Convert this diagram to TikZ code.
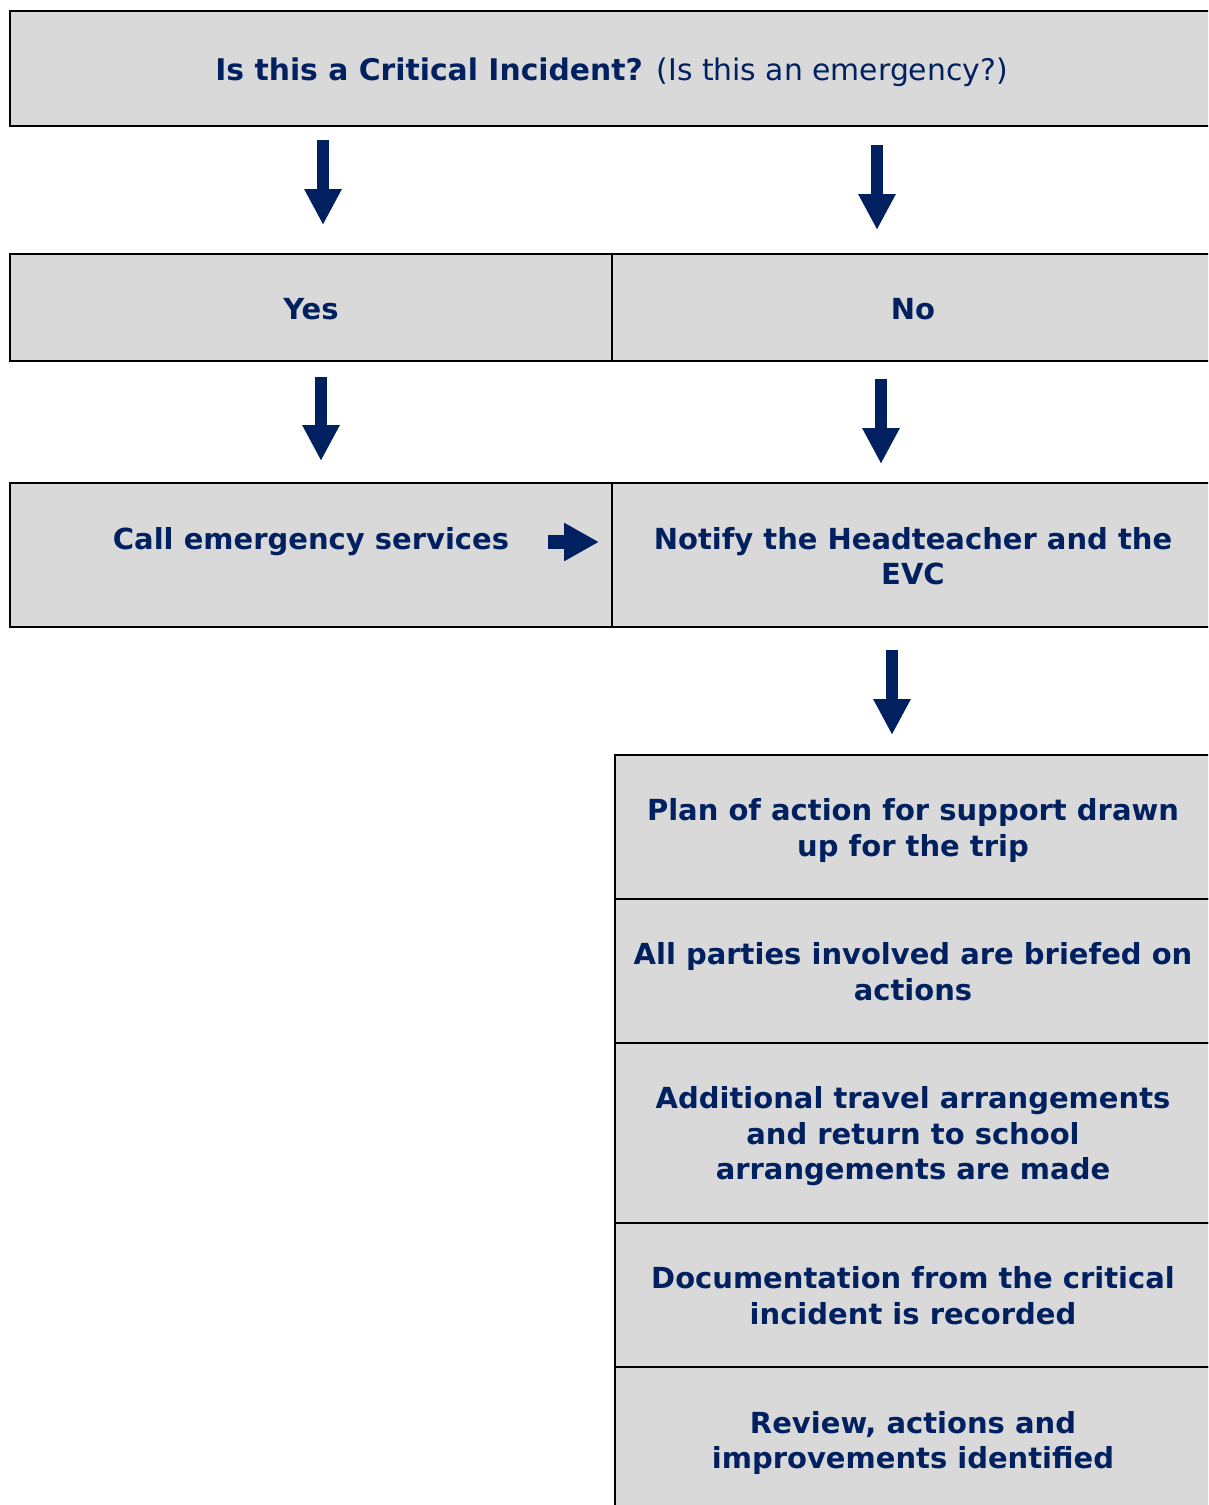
\documentclass[tikz,border=0pt]{standalone}
\usepackage{fontspec}
\setmainfont{DejaVu Sans}
\usetikzlibrary{arrows.meta}
\definecolor{navy}{HTML}{002060}
\definecolor{boxgray}{HTML}{D9D9D9}
\tikzset{
  box/.style={draw=black, line width=2pt, fill=boxgray, rectangle, inner sep=0pt},
  txt/.style={text=navy, font=\fontsize{29}{35.5}\selectfont\bfseries, align=center,
    inner sep=0pt, anchor=base},
  bigarrow/.style={draw=navy, line width=12.5pt,
    -{Triangle[length=36pt,width=35pt]}},
}
\begin{document}
\begin{tikzpicture}[x=1pt,y=-1pt]
\useasboundingbox (0,0) rectangle (1208,1505);
\clip (0,0) rectangle (1208,1505);
% boxes
\node[box, minimum width=1205pt, minimum height=115pt] (q) at (612.5,68.5) {};
\node[box, minimum width=602pt, minimum height=107pt] (yes) at (311,307.5) {};
\node[box, minimum width=602pt, minimum height=107pt] (no) at (913,307.5) {};
\node[box, minimum width=602pt, minimum height=144pt] (call) at (311,555) {};
\node[box, minimum width=602pt, minimum height=144pt] (notify) at (913,555) {};
\node[box, minimum width=596pt, minimum height=144pt] (c1) at (913,827) {};
\node[box, minimum width=596pt, minimum height=144pt] (c2) at (913,971) {};
\node[box, minimum width=596pt, minimum height=180pt] (c3) at (913,1133) {};
\node[box, minimum width=596pt, minimum height=144pt] (c4) at (913,1295) {};
\node[box, minimum width=596pt, minimum height=146pt] (c5) at (913,1440) {};
% texts (base anchor = baseline of the last line)
\node[txt, font=\fontsize{29.8}{35.5}\selectfont\bfseries] (qt) at (611.5,80)
  {Is this a Critical Incident? \mdseries(Is this an emergency?)};
\node[txt] (yest) at (311,319.3) {Yes};
\node[txt] (not) at (913,319.3) {No};
\node[txt] (callt) at (311,549.3) {Call emergency services};
\node[txt] (notifyt) at (913,584.8) {Notify the Headteacher and the\\EVC};
\node[txt] (c1t) at (913,856.2) {Plan of action for support drawn\\up for the trip};
\node[txt] (c2t) at (913,1000.2) {All parties involved are briefed on\\actions};
\node[txt] (c3t) at (913,1179.7) {Additional travel arrangements\\and return to school\\arrangements are made};
\node[txt] (c4t) at (913,1324.2) {Documentation from the critical\\incident is recorded};
\node[txt] (c5t) at (913,1468.8) {Review, actions and\\improvements identified};
% arrow columns
\coordinate (a1) at (323,0);
\coordinate (a2) at (877,0);
\coordinate (a3) at (321,0);
\coordinate (a4) at (881,0);
\coordinate (a5) at (892,0);
\coordinate (r) at (0,542);
\draw[bigarrow, shorten <=13pt, shorten >=28pt] (q.south -| a1) -- (yes.north -| a1);
\draw[bigarrow, shorten <=18pt, shorten >=23pt] (q.south -| a2) -- (no.north -| a2);
\draw[bigarrow, shorten <=15pt, shorten >=21pt] (yes.south -| a3) -- (call.north -| a3);
\draw[bigarrow, shorten <=17pt, shorten >=18pt] (no.south -| a4) -- (notify.north -| a4);
\draw[bigarrow, shorten <=22pt, shorten >=19pt] (notify.south -| a5) -- (c1.north -| a5);
\coordinate (rs) at (548,542);
\draw[draw=navy, line width=14pt, -{Triangle[length=35pt,width=36pt]}, shorten >=12pt]
  (rs) -- (notify.west |- r);
\end{tikzpicture}
\end{document}
